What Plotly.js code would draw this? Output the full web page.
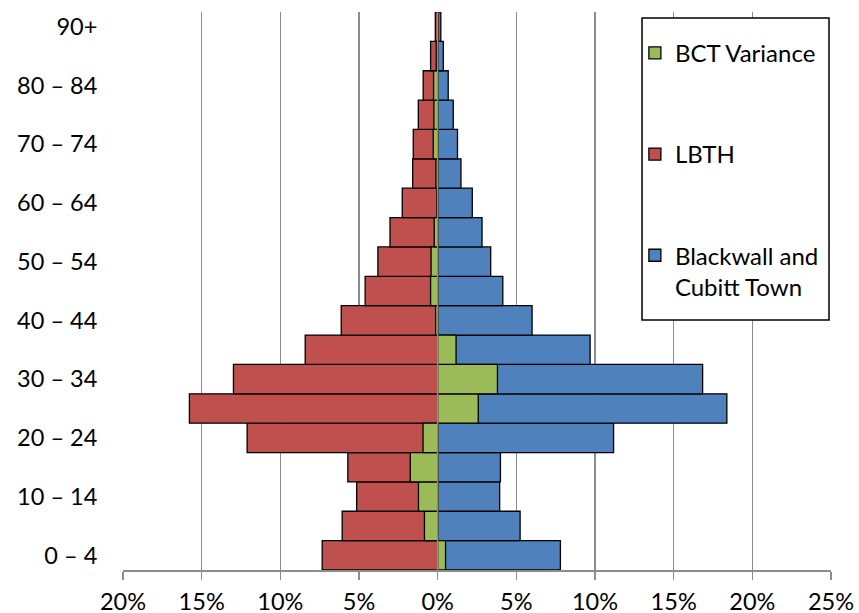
<!DOCTYPE html>
<html>
<head>
<meta charset="utf-8">
<script src="https://cdn.plot.ly/plotly-3.0.1.min.js"></script>
<style>html,body{margin:0;padding:0;background:#fff;}#chart{width:859px;height:613px;}</style>
</head>
<body>
<div id="chart"></div>
<script>
const ageGroups = ["0 – 4","5 – 9","10 – 14","15 – 19","20 – 24","25 – 29","30 – 34","35 – 39","40 – 44","45 – 49","50 – 54","55 – 59","60 – 64","65 – 69","70 – 74","75 – 79","80 – 84","85 – 89","90+"];
const lbth = [-7.34,-6.07,-5.15,-5.71,-12.11,-15.78,-12.98,-8.42,-6.13,-4.61,-3.80,-3.03,-2.25,-1.59,-1.55,-1.23,-0.92,-0.45,-0.15];
const bct = [7.80,5.24,3.94,3.99,11.18,18.38,16.84,9.69,6.00,4.14,3.37,2.82,2.20,1.48,1.26,0.99,0.67,0.36,0.20];
const bctVariance = [0.50,-0.84,-1.22,-1.74,-0.93,2.58,3.80,1.17,-0.13,-0.45,-0.42,-0.22,-0.05,-0.11,-0.28,-0.24,-0.26,-0.09,0.05];
const yTickLabels = ["0 – 4","10 – 14","20 – 24","30 – 34","40 – 44","50 – 54","60 – 64","70 – 74","80 – 84","90+"];
const xTickVals = [-20,-15,-10,-5,0,5,10,15,20,25];
const xTickText = ["20%","15%","10%","5%","0%","5%","10%","15%","20%","25%"];

const FONT = "Lato, 'Open Sans', sans-serif";
const lineStyle = {color:"#000000", width:1.3};

const traces = [
  {type:"bar", orientation:"h", name:"Blackwall and<br>Cubitt Town", x:bct, y:ageGroups,
   marker:{color:"#4F81BD", line:lineStyle}, legendgroup:"c", legendrank:3, hoverinfo:"skip"},
  {type:"bar", orientation:"h", name:"LBTH", x:lbth, y:ageGroups,
   marker:{color:"#C0504D", line:lineStyle}, legendgroup:"b", legendrank:2, hoverinfo:"skip"},
  {type:"bar", orientation:"h", name:"BCT Variance", x:bctVariance, y:ageGroups,
   marker:{color:"#9BBB59", line:lineStyle}, legendgroup:"a", legendrank:1, hoverinfo:"skip"}
];

const layout = {
  width:859, height:613,
  margin:{l:123, r:28, t:12, b:43},
  paper_bgcolor:"#ffffff", plot_bgcolor:"#ffffff",
  font:{family:FONT, size:23.5, color:"#000000"},
  barmode:"overlay", bargap:0,
  showlegend:true,
  legend:{x:0.723, xanchor:"left", y:0.985, yanchor:"top",
    bgcolor:"rgba(0,0,0,0)", borderwidth:0,
    traceorder:"grouped", tracegroupgap:67, valign:"top",
    title:{text:" ", font:{size:8}},
    font:{family:FONT, size:24, color:"#000000"}},
  xaxis:{range:[-20,25], tickmode:"array", tickvals:xTickVals, ticktext:xTickText,
    showgrid:true, gridcolor:"#8c8c8c", gridwidth:1.3, zeroline:false,
    showline:true, linecolor:"#8c8c8c", linewidth:1.5,
    ticks:"outside", ticklen:8, tickcolor:"#8c8c8c", tickwidth:1.5,
    ticklabelstandoff:2,
    tickfont:{family:FONT, size:23.5, color:"#000000"}, fixedrange:true},
  yaxis:{type:"category", categoryorder:"array", categoryarray:ageGroups,
    tickmode:"array", tickvals:yTickLabels, ticktext:yTickLabels,
    showgrid:false, zeroline:false, showline:false,
    ticks:"outside", ticklen:20, tickcolor:"rgba(0,0,0,0)",
    tickfont:{family:FONT, size:23.5, color:"#000000"}, fixedrange:true},
  shapes:[
    {type:"line", xref:"x", yref:"paper", x0:0, x1:0, y0:0, y1:1, layer:"above",
     line:{color:"#8c8c8c", width:1.5}},
    {type:"rect", xref:"paper", yref:"paper", x0:0.7331, x1:0.9972, y0:0.448, y1:0.9892, layer:"above",
     fillcolor:"#ffffff", line:{color:"#000000", width:1.5}}
  ]
};

Plotly.newPlot("chart", traces, layout, {displayModeBar:false, staticPlot:true});
</script>
</body>
</html>
